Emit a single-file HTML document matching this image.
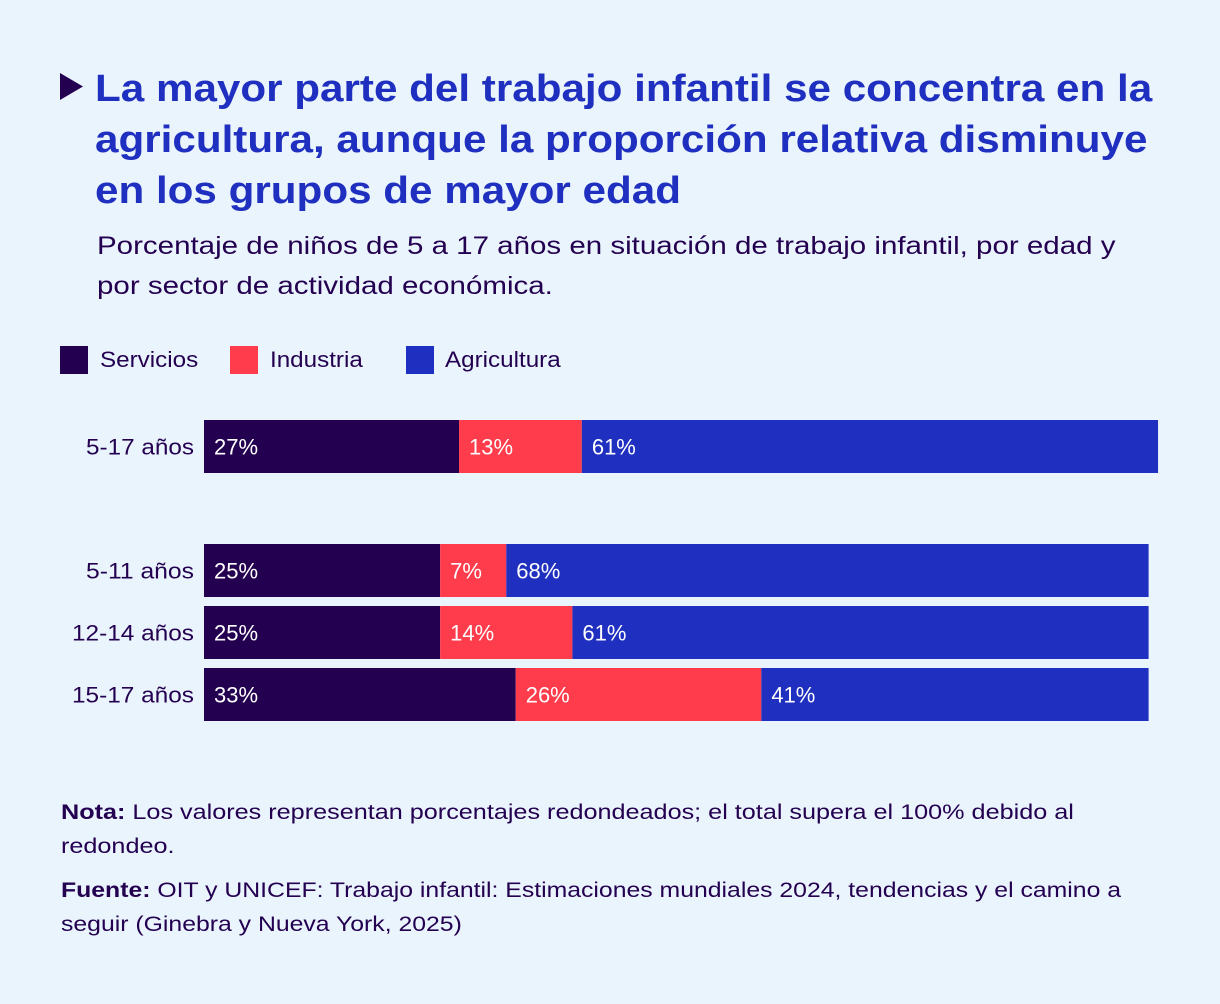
<!DOCTYPE html>
<html><head><meta charset="utf-8">
<style>
body{margin:0;width:1220px;height:1004px;background:#eaf4fd;font-family:"Liberation Sans","DejaVu Sans",sans-serif;color:#240050;position:relative;overflow:hidden}
.t{position:absolute;white-space:nowrap;transform-origin:0 0}
#title{left:95px;top:64px;font-size:38px;font-weight:bold;color:#1f2fbf;line-height:51px;transform:scaleX(1.11)}
#sub{left:97px;top:226px;font-size:25px;line-height:40px;transform:scaleX(1.18)}
.leg{position:absolute;top:346px;width:28px;height:28px}
.lt{position:absolute;top:347px;font-size:22px;transform:scaleX(1.1);transform-origin:0 0;white-space:nowrap}
.note{left:61px;font-size:21px;line-height:34px;transform:scaleX(1.2)}
</style></head><body>
<svg style="position:absolute;left:60px;top:73px" width="24" height="28"><polygon points="0,0 23,13.5 0,27" fill="#240050"/></svg>
<div id="title" class="t">La mayor parte del trabajo infantil se concentra en la<br>agricultura, aunque la proporción relativa disminuye<br>en los grupos de mayor edad</div>
<div id="sub" class="t">Porcentaje de niños de 5 a 17 años en situación de trabajo infantil, por edad y<br>por sector de actividad económica.</div>
<div class="leg" style="left:60px;background:#240050"></div>
<div class="lt" style="left:100px">Servicios</div>
<div class="leg" style="left:230px;background:#ff3c4b"></div>
<div class="lt" style="left:270px">Industria</div>
<div class="leg" style="left:406px;background:#1f2fbf"></div>
<div class="lt" style="left:445px">Agricultura</div>
<svg id="chart" style="position:absolute;left:0;top:0" width="1220" height="1004"></svg>
<div class="t note" style="top:796px"><b>Nota:</b> Los valores representan porcentajes redondeados; el total supera el 100% debido al<br>redondeo.</div>
<div class="t note" style="top:874px;transform:scaleX(1.18)"><b>Fuente:</b> OIT y UNICEF: Trabajo infantil: Estimaciones mundiales 2024, tendencias y el camino a<br>seguir (Ginebra y Nueva York, 2025)</div>
<script>
const categories=["5-17 años","5-11 años","12-14 años","15-17 años"];
const servicios=[27,25,25,33];
const industria=[13,7,14,26];
const agricultura=[61,68,61,41];
const seriesNames=["servicios","industria","agricultura"];
const colors=["#240050","#ff3c4b","#1f2fbf"];
const x0=204,scale=9.446;
const rowTop=[420,544,606,668],barH=53;
const xs=v=>v*scale;
const svg=document.getElementById('chart');
const NS="http://www.w3.org/2000/svg";
categories.forEach((c,i)=>{
  const lab=document.createElementNS(NS,'text');
  
  
  lab.setAttribute('x',194);lab.setAttribute('y',rowTop[i]+barH/2+8);
  lab.setAttribute('text-anchor','end');lab.setAttribute('font-size','22');lab.setAttribute('fill','#240050');
  lab.setAttribute('textLength',c.length>9?122:108);lab.setAttribute('lengthAdjust','spacingAndGlyphs');
  lab.textContent=c;svg.appendChild(lab);
  let x=x0;
  [servicios,industria,agricultura].forEach((s,j)=>{
    const w=xs(s[i]);
    const r=document.createElementNS(NS,'rect');
    
    
    r.setAttribute('x',x);r.setAttribute('y',rowTop[i]);r.setAttribute('width',w);r.setAttribute('height',barH);r.setAttribute('fill',colors[j]);
    svg.appendChild(r);
    const t=document.createElementNS(NS,'text');
    
    
    t.setAttribute('x',x+10);t.setAttribute('y',rowTop[i]+barH/2+8);t.setAttribute('font-size','22');t.setAttribute('fill','#fff');
    t.textContent=s[i]+'%';svg.appendChild(t);
    x+=w;
  });
});
</script>
</body></html>
